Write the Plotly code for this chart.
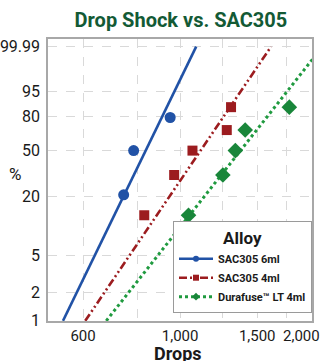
import math
import plotly.graph_objects as go

# ---------------- data ----------------
alloys = ["SAC305 6ml", "SAC305 4ml", "Durafuse™ LT 4ml"]

sac6_drops = [743, 783, 949]
sac6_pct = [20.6, 50.0, 79.4]

sac4_drops = [828, 969, 1067, 1278, 1307]
sac4_pct = [12.96, 31.48, 50.0, 68.52, 87.04]

dura_drops = [1045, 1252, 1337, 1408, 1776]
dura_pct = [12.96, 31.48, 50.0, 68.52, 87.04]

# fitted lines (read at 1 % and 99.99 %)
fit_pct = [1, 99.99]
sac6_fit_drops = [540, 1088]
sac4_fit_drops = [607, 1613]
dura_fit_drops = [678, 2114]

y_tick_values = [1, 2, 5, 20, 50, 80, 95, 99.99]
y_tick_labels = ["1", "2", "5", "20", "50", "80", "95", "99.99"]
x_tick_values = [600, 800, 1000, 1250, 1500, 1750, 2000]
x_tick_labels = ["600", "", "1,000", "", "1,500", "", "2,000"]

# ---------------- styles ----------------
FONT = "Roboto, Liberation Sans, sans-serif"
BLUE = "#2152a6"
RED = "#9c1c1f"
GREEN = "#1f9a3f"
GREEN_M = "#19863a"


def weib(p):
    """Weibull probability-paper transform of a percentage."""
    return [math.log(-math.log(1 - v / 100.0)) for v in p]


fig = go.Figure()

series = [
    (alloys[0], sac6_drops, sac6_pct, sac6_fit_drops, BLUE, BLUE, "circle", 11, "solid", 2.6),
    (alloys[1], sac4_drops, sac4_pct, sac4_fit_drops, RED, RED, "square", 10, "8px,3px,2px,3px,2px,3px", 2.6),
    (alloys[2], dura_drops, dura_pct, dura_fit_drops, GREEN, GREEN_M, "diamond", 12, "dot", 3),
]

for name, xd, yd, xf, lc, mc, sym, ms, dash, lw in series:
    fig.add_trace(go.Scatter(
        x=xf, y=weib(fit_pct), mode="lines",
        line=dict(color=lc, width=lw, dash=dash),
        showlegend=False, hoverinfo="skip"))
    fig.add_trace(go.Scatter(
        x=xd, y=weib(yd), mode="markers",
        marker=dict(color=mc, symbol=sym, size=ms),
        showlegend=False))
    # legend entry
    fig.add_trace(go.Scatter(
        x=[None], y=[None], mode="lines+markers", name=name,
        line=dict(color=lc, width=lw, dash=dash),
        marker=dict(color=mc, symbol=sym, size=6)))

# the last tick label sits at the right edge; it is drawn slightly inset
axis_text = x_tick_labels[:-1] + [""]
edge_label = x_tick_labels[-1]
edge_value = x_tick_values[-1]

TICK_Y = (321 - 336) / 282

fig.update_layout(
    width=326, height=361,
    margin=dict(l=48, r=14, t=39, b=40),
    paper_bgcolor="white", plot_bgcolor="white",
    font=dict(family=FONT, color="#1a1a1a"),
    title=dict(text="<b>Drop Shock vs. SAC305</b>", x=0.555, xanchor="center",
               y=1 - 20 / 361, yanchor="middle",
               font=dict(size=20, family=FONT, color="#135a35")),
    xaxis=dict(
        type="log", range=[math.log10(499), math.log10(2001)],
        tickmode="array", tickvals=x_tick_values, ticktext=axis_text,
        tickfont=dict(size=15, family=FONT, color="#1a1a1a"),
        showgrid=True, gridcolor="#d9d9d9", griddash="dash", gridwidth=1,
        showline=True, linecolor="#a8a8a8", linewidth=1.5, mirror=True,
        ticks="", zeroline=False,
        automargin=False,
    ),
    yaxis=dict(
        range=[-4.605, 2.41],
        tickmode="array", tickvals=weib(y_tick_values), ticktext=y_tick_labels,
        tickfont=dict(size=16, family=FONT, color="#1a1a1a"),
        ticklabeloverflow="allow",
        showgrid=True, gridcolor="#d9d9d9", griddash="dash", gridwidth=1,
        showline=True, linecolor="#a8a8a8", linewidth=1.5, mirror=True,
        ticks="outside", ticklen=3, tickcolor="rgba(0,0,0,0)", zeroline=False,
        automargin=False,
    ),
    legend=dict(
        x=1, xanchor="right", y=0.028, yanchor="bottom",
        bgcolor="white", bordercolor="#9a9a9a", borderwidth=1,
        font=dict(size=11, family=FONT, color="#1a1a1a", weight="bold"),
        title=dict(text="<b>Alloy</b>", side="top center",
                   font=dict(size=17, family=FONT, color="#1a1a1a")),
        itemwidth=34, tracegroupgap=0,
    ),
    annotations=[
        dict(text="%", xref="paper", yref="paper",
             x=-33 / 264, y=(321 - 174) / 282, showarrow=False,
             xanchor="center", yanchor="middle",
             font=dict(size=17, family=FONT, color="#1a1a1a")),
        dict(text="<b>Drops</b>", xref="paper", yref="paper",
             x=(178 - 48) / 264, y=(321 - 353) / 282, showarrow=False,
             xanchor="center", yanchor="middle",
             font=dict(size=18, family=FONT, color="#1a1a1a")),
        dict(text=edge_label, xref="x", yref="paper",
             x=math.log10(edge_value), y=TICK_Y, xshift=-10, showarrow=False,
             xanchor="center", yanchor="middle",
             font=dict(size=15, family=FONT, color="#1a1a1a")),
    ],
)

fig.write_html("out.html",
               config={"displayModeBar": False},
               post_script="document.body.style.margin='0';"
                           "document.body.style.overflow='hidden';")
